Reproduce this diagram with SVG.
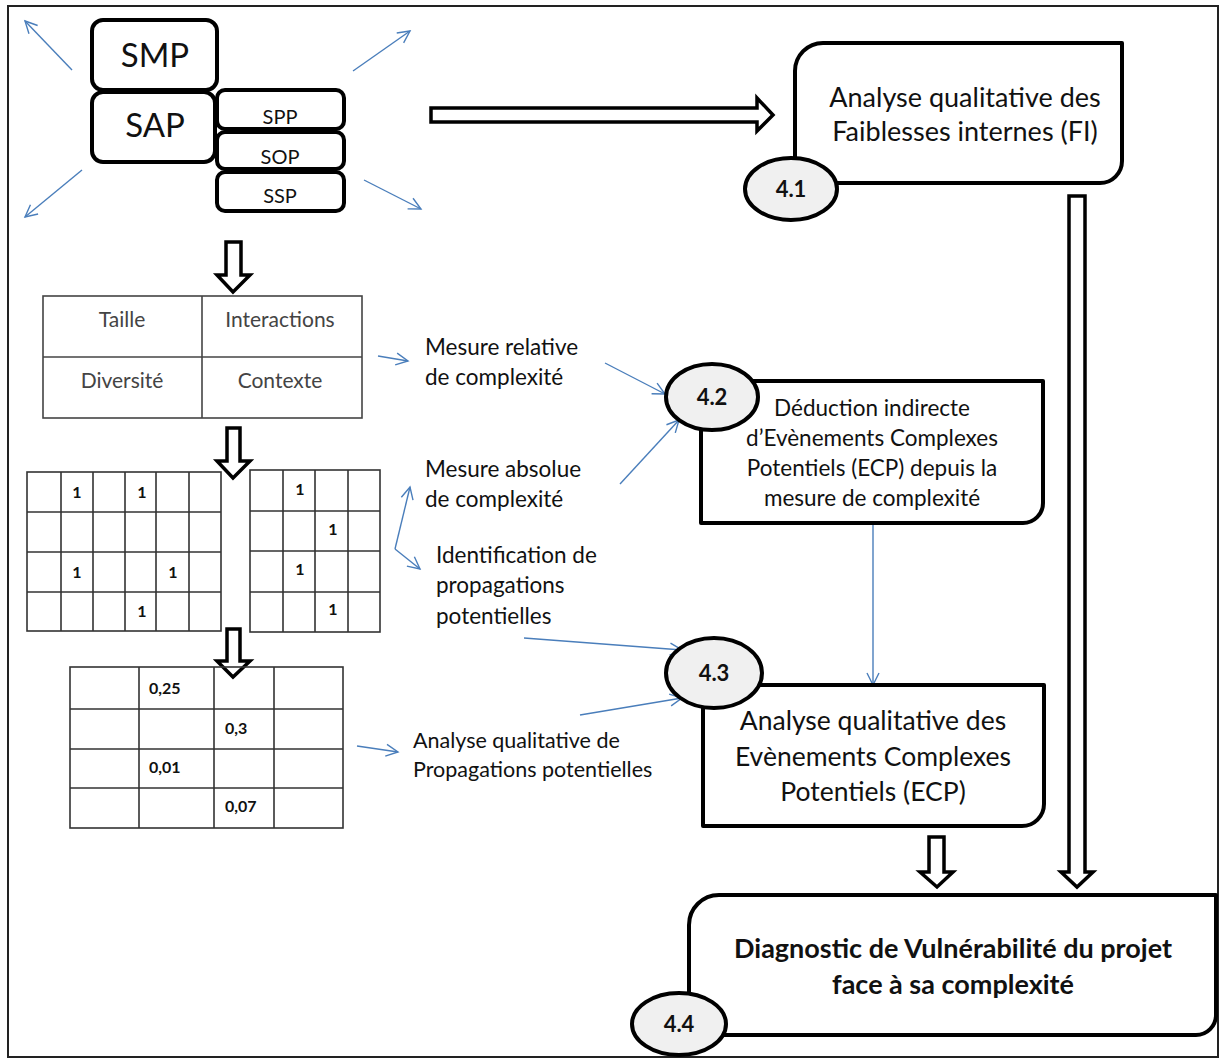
<svg xmlns="http://www.w3.org/2000/svg" width="1220" height="1060" viewBox="0 0 1220 1060">
<style>
text{font-family:Lato,"Liberation Sans",sans-serif;fill:#111}
.box{fill:#fff;stroke:#000;stroke-width:4;stroke-linejoin:round}
.ell{fill:#f0f0f0;stroke:#000;stroke-width:4}
.num{font-weight:bold;font-size:22px;text-anchor:middle}
.big{fill:#fff;stroke:#000;stroke-width:3.5;stroke-linejoin:miter}
.blue{fill:none;stroke:#4a7ebb;stroke-width:1.4;marker-end:url(#ah)}
.grid{fill:none;stroke:#333;stroke-width:1.6}
.tbl{fill:none;stroke:#444;stroke-width:1.6}
.lbl{font-size:22.5px}
.one{font-weight:bold;font-size:16px;text-anchor:middle}
.c{text-anchor:middle}
.gt{fill:#444;font-size:21px;text-anchor:middle}
</style>
<defs>
<marker id="ah" markerUnits="userSpaceOnUse" markerWidth="16" markerHeight="16" refX="13" refY="7" orient="auto">
<path d="M1,1 L13,7 L1,13" fill="none" stroke="#4a7ebb" stroke-width="1.4"/>
</marker>
</defs>
<rect x="0" y="0" width="1220" height="1060" fill="#fff"/>
<rect x="8" y="6" width="1210" height="1051" fill="none" stroke="#222" stroke-width="2"/>

<g id="connectors">
<line class="blue" x1="72" y1="70" x2="25" y2="21"/>
<line class="blue" x1="353" y1="71" x2="410" y2="31"/>
<line class="blue" x1="82" y1="170" x2="25" y2="217"/>
<line class="blue" x1="364" y1="180" x2="421" y2="209"/>
<polygon class="big" points="431,108 757,108 757,98 773,115 757,131 757,122 431,122"/>
<polygon class="big" points="1069,196 1085,196 1085,872 1093,872 1077,887 1061,872 1069,872"/>
<polygon class="big" points="226,242 241,242 241,275 250,275 233,292 217,275 226,275"/>
<polygon class="big" points="227,428 240,428 240,461 250,461 233,478 217,461 227,461"/>
<polygon class="big" points="227,629 240,629 240,661 250,661 233,677 217,661 227,661"/>
<polygon class="big" points="929,837 944,837 944,872 953,872 937,887 920,872 929,872"/>
<line class="blue" x1="378" y1="356" x2="408" y2="361"/>
<line class="blue" x1="605" y1="363" x2="665" y2="394"/>
<line class="blue" x1="620" y1="484" x2="679" y2="420"/>
<polyline class="blue" points="395,549 410,487"/>
<polyline class="blue" points="395,549 420,569"/>
<line class="blue" x1="524" y1="638" x2="682" y2="650"/>
<line class="blue" x1="580" y1="715" x2="682" y2="698"/>
<line class="blue" x1="357" y1="746" x2="398" y2="752"/>
<line class="blue" x1="873" y1="523" x2="873" y2="685"/>
</g>

<g id="smp">
<rect class="box" x="92" y="20" width="125" height="70" rx="11"/>
<text x="155" y="67" class="c" font-size="33">SMP</text>
</g>
<g id="sap">
<rect class="box" x="92" y="92" width="123" height="70" rx="11"/>
<text x="155" y="137" class="c" font-size="33">SAP</text>
</g>
<g id="spp">
<rect class="box" x="217" y="90" width="127" height="39" rx="8"/>
<text x="280" y="124" class="c" font-size="20">SPP</text>
</g>
<g id="sop">
<rect class="box" x="217" y="132" width="127" height="37" rx="8"/>
<text x="280" y="164" class="c" font-size="20">SOP</text>
</g>
<g id="ssp">
<rect class="box" x="217" y="172" width="127" height="39" rx="8"/>
<text x="280" y="203" class="c" font-size="20">SSP</text>
</g>

<g id="table">
<rect class="tbl" x="43" y="296" width="319" height="122"/>
<line class="tbl" x1="202" y1="296" x2="202" y2="418"/>
<line class="tbl" x1="43" y1="357" x2="362" y2="357"/>
<text x="122" y="327" class="gt">Taille</text>
<text x="280" y="327" class="gt">Interactions</text>
<text x="122" y="388" class="gt">Diversité</text>
<text x="280" y="388" class="gt">Contexte</text>
</g>

<g id="gridA">
<rect class="grid" x="27" y="472" width="194" height="159"/>
<path class="grid" d="M61,472V631M93,472V631M125,472V631M156,472V631M189,472V631M27,512H221M27,552H221M27,592H221"/>
<text x="77" y="498" class="one">1</text>
<text x="142" y="498" class="one">1</text>
<text x="77" y="578" class="one">1</text>
<text x="173" y="578" class="one">1</text>
<text x="142" y="617" class="one">1</text>
</g>

<g id="gridB">
<rect class="grid" x="250" y="470" width="130" height="162"/>
<path class="grid" d="M283,470V632M315,470V632M348,470V632M250,511H380M250,551H380M250,592H380"/>
<text x="300" y="495" class="one">1</text>
<text x="333" y="535" class="one">1</text>
<text x="300" y="575" class="one">1</text>
<text x="333" y="615" class="one">1</text>
</g>

<g id="gridC">
<rect class="grid" x="70" y="667" width="273" height="161"/>
<path class="grid" d="M139,667V828M214,667V828M274,667V828M70,709H343M70,749H343M70,788H343"/>
<text x="149" y="694" class="one" style="text-anchor:start">0,25</text>
<text x="225" y="734" class="one" style="text-anchor:start">0,3</text>
<text x="149" y="773" class="one" style="text-anchor:start">0,01</text>
<text x="225" y="812" class="one" style="text-anchor:start">0,07</text>
</g>

<g id="labels">
<text class="lbl" x="425" y="355">Mesure relative</text>
<text class="lbl" x="425" y="385">de complexité</text>
<text class="lbl" x="425" y="477">Mesure absolue</text>
<text class="lbl" x="425" y="507">de complexité</text>
<text class="lbl" x="436" y="563">Identification de</text>
<text class="lbl" x="436" y="593">propagations</text>
<text class="lbl" x="436" y="624">potentielles</text>
<text x="413" y="748" font-size="21.5">Analyse qualitative de</text>
<text x="413" y="777" font-size="21.5">Propagations potentielles</text>
</g>

<g id="n41">
<path class="box" d="M795,183 V71 A28,28 0 0 1 823,43 H1122 V161 A22,22 0 0 1 1100,183 Z"/>
<text x="965" y="107" class="c" font-size="27">Analyse qualitative des</text>
<text x="965" y="141" class="c" font-size="27">Faiblesses internes (FI)</text>
<ellipse class="ell" cx="791" cy="189" rx="46" ry="31"/>
<text x="791" y="197" class="num">4.1</text>
</g>

<g id="n42">
<path class="box" d="M701,523 V401 A20,20 0 0 1 721,381 H1043 V503 A20,20 0 0 1 1023,523 Z"/>
<text x="872" y="416" class="c" font-size="22.5">Déduction indirecte</text>
<text x="872" y="446" class="c" font-size="22.5">d’Evènements Complexes</text>
<text x="872" y="476" class="c" font-size="22.5">Potentiels (ECP) depuis la</text>
<text x="872" y="506" class="c" font-size="22.5">mesure de complexité</text>
<ellipse class="ell" cx="712" cy="397" rx="46" ry="33"/>
<text x="712" y="405" class="num">4.2</text>
</g>

<g id="n43">
<path class="box" d="M703,826 V705 A20,20 0 0 1 723,685 H1044 V804 A22,22 0 0 1 1022,826 Z"/>
<text x="873" y="730" class="c" font-size="26.5">Analyse qualitative des</text>
<text x="873" y="766" class="c" font-size="26.5">Evènements Complexes</text>
<text x="873" y="801" class="c" font-size="26.5">Potentiels (ECP)</text>
<ellipse class="ell" cx="714" cy="673" rx="48" ry="35"/>
<text x="714" y="681" class="num">4.3</text>
</g>

<g id="n44">
<path class="box" d="M689,1035 V925 A30,30 0 0 1 719,895 H1216 V1015 A20,20 0 0 1 1196,1035 Z"/>
<text x="953" y="958" class="c" font-size="27" font-weight="bold">Diagnostic de Vulnérabilité du projet</text>
<text x="953" y="994" class="c" font-size="27" font-weight="bold">face à sa complexité</text>
<ellipse class="ell" cx="679" cy="1024" rx="47" ry="31"/>
<text x="679" y="1032" class="num">4.4</text>
</g>
</svg>
